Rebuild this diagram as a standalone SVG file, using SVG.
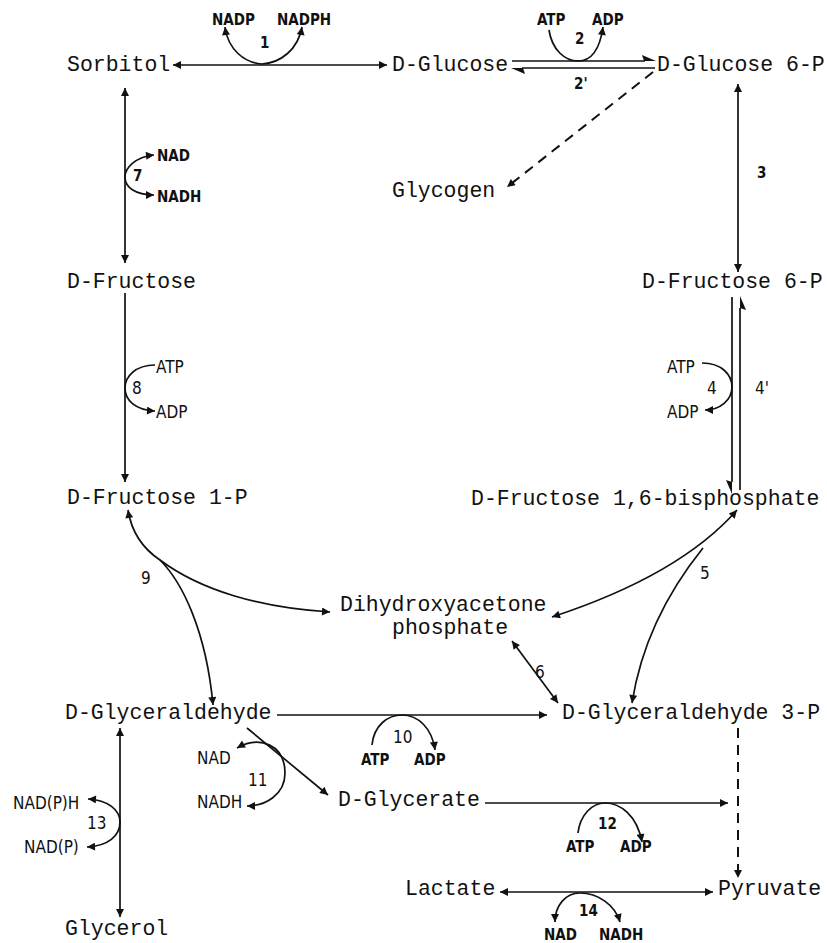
<svg xmlns="http://www.w3.org/2000/svg" width="827" height="943" viewBox="0 0 827 943">
<style>
.n{font-family:"Liberation Mono","Courier New",monospace;font-size:21.5px;fill:#111}
.s{font-family:"DejaVu Sans Condensed","Liberation Sans",sans-serif;font-size:15px;font-weight:bold;fill:#111}
.r{font-family:"DejaVu Sans Condensed","Liberation Sans",sans-serif;font-size:17px;fill:#111}
.c{fill:none;stroke:#111;stroke-width:1.7}
.d{fill:none;stroke:#111;stroke-width:2;stroke-dasharray:10 7}
.h{fill:#111}
</style>
<defs>
<marker id="a" viewBox="0 0 10 10" refX="10" refY="5" markerWidth="10" markerHeight="8" markerUnits="userSpaceOnUse" orient="auto-start-reverse">
<path d="M0,0 L10,5 L0,10 z" fill="#111"/>
</marker>
</defs>
<rect width="827" height="943" fill="#fff"/>
<g id="sorbitol"><text class="n" x="67" y="71">Sorbitol</text></g>
<g id="glucose"><text class="n" x="392" y="71">D-Glucose</text></g>
<g id="glucose6p"><text class="n" x="657" y="71">D-Glucose 6-P</text></g>
<g id="glycogen"><text class="n" x="392" y="197">Glycogen</text></g>
<g id="fructose"><text class="n" x="67" y="288">D-Fructose</text></g>
<g id="fructose6p"><text class="n" x="642" y="288">D-Fructose 6-P</text></g>
<g id="fructose1p"><text class="n" x="67" y="504">D-Fructose 1-P</text></g>
<g id="fbp"><text class="n" x="471" y="505">D-Fructose 1,6-bisphosphate</text></g>
<g id="dhap"><text class="n" x="340" y="611">Dihydroxyacetone</text><text class="n" x="392" y="634">phosphate</text></g>
<g id="glyceraldehyde"><text class="n" x="65" y="719">D-Glyceraldehyde</text></g>
<g id="gap"><text class="n" x="562" y="719">D-Glyceraldehyde 3-P</text></g>
<g id="glycerate"><text class="n" x="338" y="806">D-Glycerate</text></g>
<g id="lactate"><text class="n" x="405" y="895">Lactate</text></g>
<g id="pyruvate"><text class="n" x="718" y="895">Pyruvate</text></g>
<g id="glycerol"><text class="n" x="65" y="935">Glycerol</text></g>

<g id="connectors">
<!-- 1 -->
<path class="c" d="M173,65 L387,65" marker-start="url(#a)" marker-end="url(#a)"/>
<path class="c" d="M225,27 C228,50 245,63 262,64 C280,63 298,50 302,27" marker-start="url(#a)" marker-end="url(#a)"/>
<!-- 2 / 2' -->
<path class="c" d="M512,61 L645,61"/>
<polygon class="h" points="656,61 642,55 644,61"/>
<path class="c" d="M655,68 L522,68"/>
<polygon class="h" points="511,68 525,74 523,68"/>
<path class="c" d="M549,30 C552,50 565,61 578,61 C592,61 600,48 603,27" marker-end="url(#a)"/>
<!-- glycogen -->
<path class="d" d="M653,72 L507,187" marker-end="url(#a)"/>
<!-- 3 -->
<path class="c" d="M738,84 L738,272" marker-start="url(#a)" marker-end="url(#a)"/>
<!-- 7 -->
<path class="c" d="M125,88 L125,263" marker-start="url(#a)" marker-end="url(#a)"/>
<path class="c" d="M154,155 C135,157 125,168 125,177 C125,187 135,195 154,195" marker-start="url(#a)" marker-end="url(#a)"/>
<!-- 8 -->
<path class="c" d="M125,293 L125,482" marker-end="url(#a)"/>
<path class="c" d="M155,365 C135,365 125,377 125,388 C125,400 135,410 155,411" marker-end="url(#a)"/>
<!-- 4 / 4' -->
<path class="c" d="M732,297 L732,482"/>
<polygon class="h" points="732,494 726,480 732,482"/>
<path class="c" d="M740,490 L740,308"/>
<polygon class="h" points="740,296 746,310 740,308"/>
<path class="c" d="M702,363 C722,363 732,375 732,387 C732,400 720,410 705,410" marker-end="url(#a)"/>
<!-- 5 -->
<path class="c" d="M737,510 Q680,575 552,617" marker-start="url(#a)" marker-end="url(#a)"/>
<path class="c" d="M703,548 Q645,620 632,703" marker-end="url(#a)"/>
<!-- 9 -->
<path class="c" d="M128,510 C132,535 145,550 160,560 C200,590 260,608 330,612" marker-start="url(#a)" marker-end="url(#a)"/>
<path class="c" d="M160,560 C182,582 206,630 213,705" marker-end="url(#a)"/>
<!-- 6 -->
<path class="c" d="M512,641 L558,703" marker-start="url(#a)" marker-end="url(#a)"/>
<!-- 10 -->
<path class="c" d="M277,715 L547,715" marker-end="url(#a)"/>
<path class="c" d="M372,745 C374,725 388,715 402,715 C418,715 432,728 435,750" marker-end="url(#a)"/>
<!-- 11 -->
<path class="c" d="M247,728 L328,795" marker-end="url(#a)"/>
<path class="c" d="M237,748 C260,735 285,745 285,773 C285,795 265,806 247,806" marker-start="url(#a)" marker-end="url(#a)"/>
<!-- 12 -->
<path class="c" d="M485,803 L728,803" marker-end="url(#a)"/>
<path class="c" d="M578,833 C580,815 592,803 605,803 C620,803 637,815 642,842" marker-end="url(#a)"/>
<!-- dashed to pyruvate -->
<path class="d" d="M738,728 L738,878" marker-end="url(#a)"/>
<!-- 13 -->
<path class="c" d="M120,728 L120,917" marker-start="url(#a)" marker-end="url(#a)"/>
<path class="c" d="M88,799 C108,800 120,810 120,822 C120,836 108,846 87,847" marker-start="url(#a)" marker-end="url(#a)"/>
<!-- 14 -->
<path class="c" d="M500,892 L713,892" marker-start="url(#a)" marker-end="url(#a)"/>
<path class="c" d="M555,922 C555,905 566,893 580,893 C598,893 615,905 620,922" marker-start="url(#a)" marker-end="url(#a)"/>
</g>

<g id="labels">
<text class="s" x="212" y="25">NADP</text>
<text class="s" x="277" y="25">NADPH</text>
<text class="s" x="260" y="48">1</text>
<text class="s" x="537" y="25">ATP</text>
<text class="s" x="592" y="25">ADP</text>
<text class="s" x="575" y="44">2</text>
<text class="s" x="574" y="89">2'</text>
<text class="s" x="757" y="178">3</text>
<text class="s" x="157" y="161">NAD</text>
<text class="s" x="157" y="202">NADH</text>
<text class="s" x="133" y="181">7</text>
<text class="r" x="156" y="373">ATP</text>
<text class="r" x="156" y="418">ADP</text>
<text class="r" x="132" y="394">8</text>
<text class="r" x="667" y="373">ATP</text>
<text class="r" x="667" y="418">ADP</text>
<text class="r" x="707" y="394">4</text>
<text class="r" x="755" y="394">4'</text>
<text class="r" x="700" y="579">5</text>
<text class="r" x="141" y="584">9</text>
<text class="r" x="535" y="678">6</text>
<text class="s" x="361" y="765">ATP</text>
<text class="s" x="414" y="765">ADP</text>
<text class="r" x="393" y="743">10</text>
<text class="r" x="197" y="764">NAD</text>
<text class="r" x="197" y="808">NADH</text>
<text class="r" x="248" y="786">11</text>
<text class="s" x="566" y="852">ATP</text>
<text class="s" x="620" y="852">ADP</text>
<text class="s" x="598" y="829">12</text>
<text class="r" x="13" y="809">NAD(P)H</text>
<text class="r" x="24" y="853">NAD(P)</text>
<text class="r" x="87" y="829">13</text>
<text class="s" x="544" y="940">NAD</text>
<text class="s" x="599" y="940">NADH</text>
<text class="s" x="579" y="916">14</text>
</g>
</svg>
